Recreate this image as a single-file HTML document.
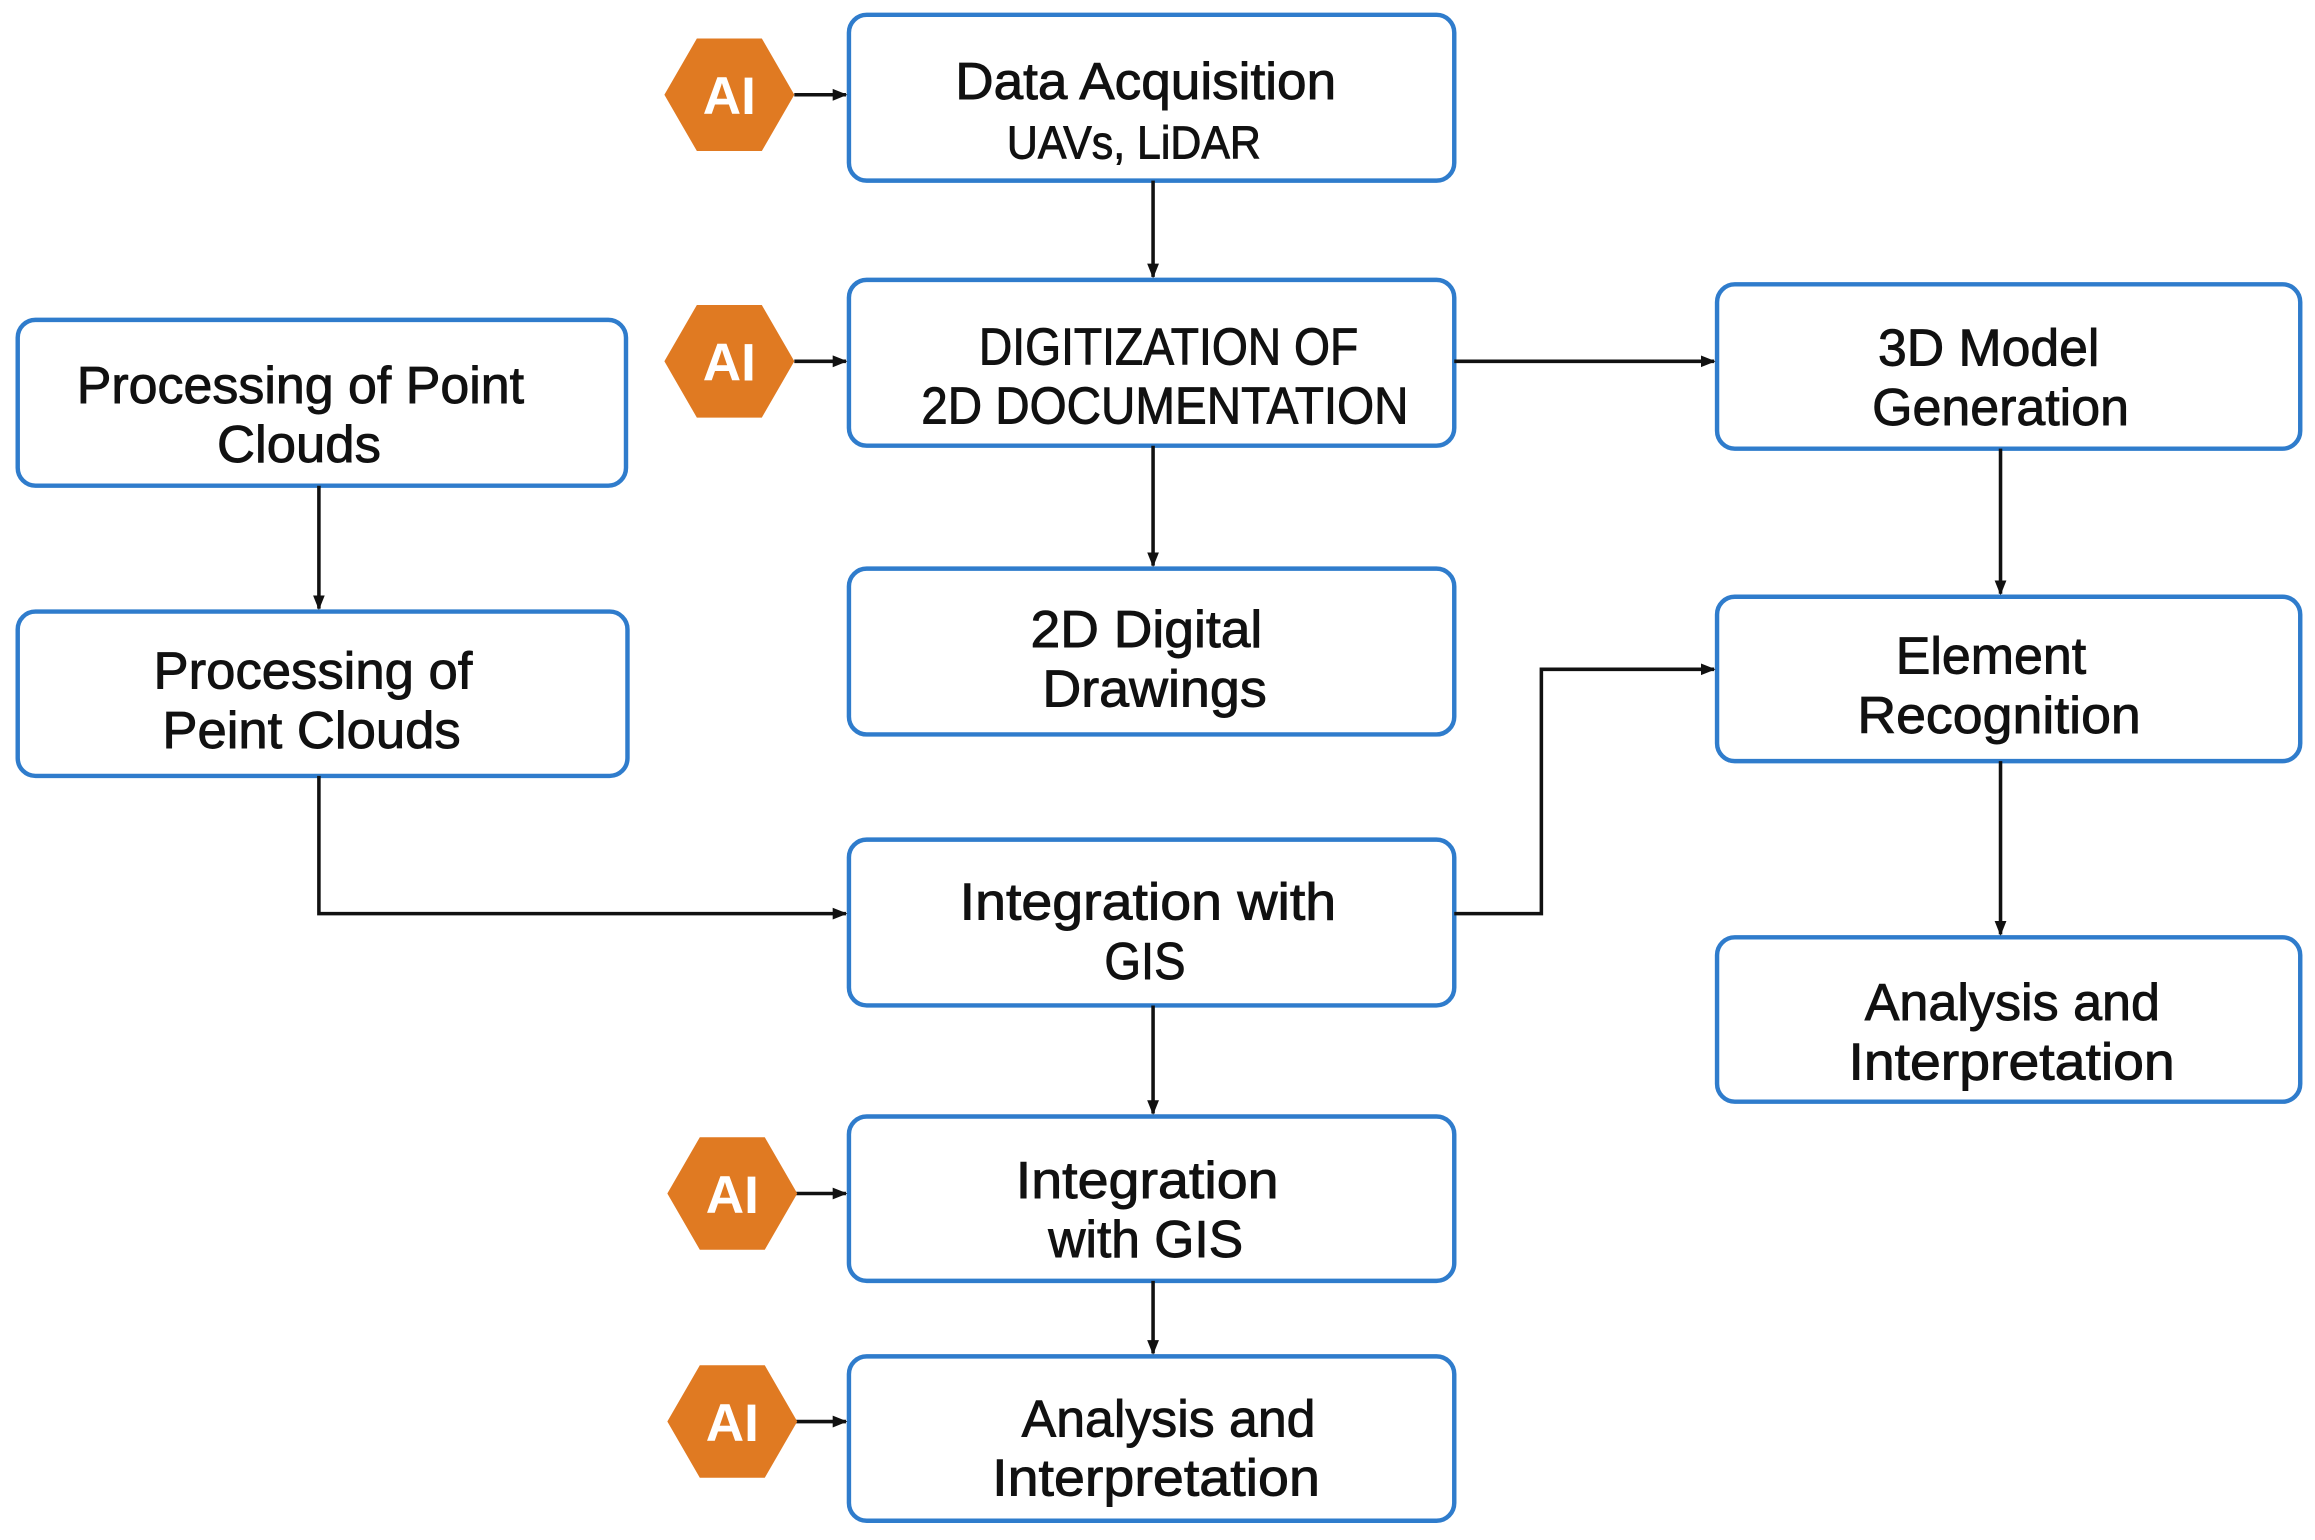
<!DOCTYPE html>
<html><head><meta charset="utf-8"><style>
html,body{margin:0;padding:0;background:#fff;}
svg{display:block;}
text{font-family:"Liberation Sans",sans-serif;fill:#111;}
</style></head><body>
<svg width="2315" height="1540" viewBox="0 0 1568 1040" preserveAspectRatio="none" xmlns="http://www.w3.org/2000/svg">
<defs>
<marker id="a" markerWidth="10" markerHeight="10" refX="9" refY="5" orient="auto" markerUnits="userSpaceOnUse">
<path d="M0,1 L10,5 L0,9 Z" fill="#111"/></marker>
<g id="hex"><polygon points="-44,0 -22,-38 22,-38 44,0 22,38 -22,38" fill="#e07a22"/>
<text x="0" y="13" text-anchor="middle" font-size="36" font-weight="bold" style="fill:#fff">AI</text></g>
</defs>
<rect width="1568" height="1040" fill="#fff"/>
<g fill="#fff" stroke="#2f7ccc" stroke-width="3">
<rect x="575" y="10" width="410" height="112" rx="12"/>
<rect x="575" y="189" width="410" height="112" rx="12"/>
<rect x="1163" y="192" width="395" height="111" rx="12"/>
<rect x="12" y="216" width="412" height="112" rx="12"/>
<rect x="12" y="413" width="413" height="111" rx="12"/>
<rect x="575" y="384" width="410" height="112" rx="12"/>
<rect x="1163" y="403" width="395" height="111" rx="12"/>
<rect x="575" y="567" width="410" height="112" rx="12"/>
<rect x="1163" y="633" width="395" height="111" rx="12"/>
<rect x="575" y="754" width="410" height="111" rx="12"/>
<rect x="575" y="916" width="410" height="111" rx="12"/>
</g>
<g stroke="#111" stroke-width="2.4" fill="none" marker-end="url(#a)">
<line x1="781" y1="122" x2="781" y2="187"/>
<line x1="781" y1="301" x2="781" y2="382"/>
<line x1="985" y1="244" x2="1161" y2="244"/>
<line x1="216" y1="328" x2="216" y2="411"/>
<line x1="1355" y1="303" x2="1355" y2="401"/>
<line x1="1355" y1="514" x2="1355" y2="631"/>
<polyline points="216,524 216,617 573,617"/>
<polyline points="985,617 1044,617 1044,452 1161,452"/>
<line x1="781" y1="679" x2="781" y2="752"/>
<line x1="781" y1="865" x2="781" y2="914"/>
<line x1="538" y1="64" x2="573" y2="64"/>
<line x1="538" y1="244" x2="573" y2="244"/>
<line x1="538" y1="806" x2="573" y2="806"/>
<line x1="538" y1="960" x2="573" y2="960"/>
</g>
<use href="#hex" x="494" y="64"/>
<use href="#hex" x="494" y="244"/>
<use href="#hex" x="496" y="806"/>
<use href="#hex" x="496" y="960"/>
<g font-size="35" stroke="#111" stroke-width="0.6">
<text x="647" y="67" textLength="258" lengthAdjust="spacingAndGlyphs">Data Acquisition</text>
<text x="682" y="107" textLength="172" font-size="31" lengthAdjust="spacingAndGlyphs">UAVs, LiDAR</text>
<text x="663" y="246" textLength="257" lengthAdjust="spacingAndGlyphs">DIGITIZATION OF</text>
<text x="624" y="286" textLength="330" lengthAdjust="spacingAndGlyphs">2D DOCUMENTATION</text>
<text x="1272" y="247" textLength="150" lengthAdjust="spacingAndGlyphs">3D Model</text>
<text x="1268" y="287" textLength="174" lengthAdjust="spacingAndGlyphs">Generation</text>
<text x="52" y="272" textLength="303" lengthAdjust="spacingAndGlyphs">Processing of Point</text>
<text x="147" y="312" textLength="111" lengthAdjust="spacingAndGlyphs">Clouds</text>
<text x="104" y="465" textLength="216" lengthAdjust="spacingAndGlyphs">Processing of</text>
<text x="110" y="505" textLength="202" lengthAdjust="spacingAndGlyphs">Peint Clouds</text>
<text x="698" y="437" textLength="157" lengthAdjust="spacingAndGlyphs">2D Digital</text>
<text x="706" y="477" textLength="152" lengthAdjust="spacingAndGlyphs">Drawings</text>
<text x="1284" y="455" textLength="129" lengthAdjust="spacingAndGlyphs">Element</text>
<text x="1258" y="495" textLength="192" lengthAdjust="spacingAndGlyphs">Recognition</text>
<text x="650" y="621" textLength="255" lengthAdjust="spacingAndGlyphs">Integration with</text>
<text x="748" y="661" textLength="55" lengthAdjust="spacingAndGlyphs">GIS</text>
<text x="1263" y="689" textLength="200" lengthAdjust="spacingAndGlyphs">Analysis and</text>
<text x="1252" y="729" textLength="221" lengthAdjust="spacingAndGlyphs">Interpretation</text>
<text x="688" y="809" textLength="178" lengthAdjust="spacingAndGlyphs">Integration</text>
<text x="710" y="849" textLength="132" lengthAdjust="spacingAndGlyphs">with GIS</text>
<text x="692" y="970" textLength="199" lengthAdjust="spacingAndGlyphs">Analysis and</text>
<text x="672" y="1010" textLength="222" lengthAdjust="spacingAndGlyphs">Interpretation</text>
</g>
</svg>
</body></html>
